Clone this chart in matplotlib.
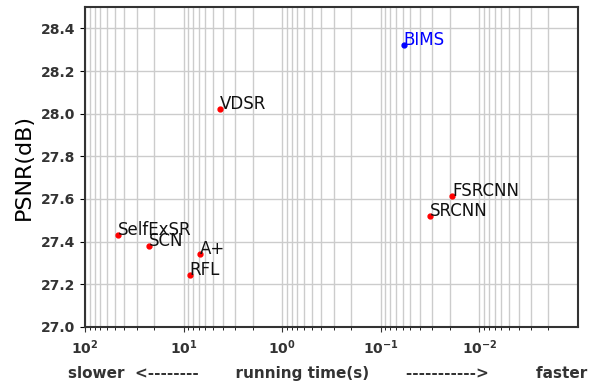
import numpy as np
import matplotlib
matplotlib.use("Agg")
import matplotlib.pyplot as plt

# Métodos, tiempo de ejecución (s) y PSNR (dB)
metodos = ["SelfExSR", "SCN", "A+", "RFL", "VDSR", "FSRCNN", "SRCNN"]
tiempos = [46.0, 22.5, 6.8, 8.7, 4.3, 0.019, 0.0316]
psnr = [27.43, 27.38, 27.34, 27.245, 28.02, 27.615, 27.52]

nuestro = "BIMS"
tiempo_nuestro = 0.0586
psnr_nuestro = 28.32

fig = plt.figure(figsize=(6.08, 3.85), dpi=100)
ax = fig.add_axes([85 / 608, 1 - 327 / 385, 493 / 608, 320 / 385])

ax.set_xscale("log")
ax.set_xlim(100, 0.001)
ax.set_ylim(27.0, 28.5)

# Puntos y etiquetas
ax.plot(tiempos, psnr, "o", color="red", markersize=3.5, zorder=3)
for nombre, t, p in zip(metodos, tiempos, psnr):
    ax.text(t, p, nombre, fontsize=12, color="#111111")

ax.plot([tiempo_nuestro], [psnr_nuestro], "o", color="blue", markersize=3.5, zorder=3)
ax.text(tiempo_nuestro, psnr_nuestro, nuestro, fontsize=12, color="blue")

# Rejilla
ax.grid(True, which="both", axis="x", color="#cccccc", linewidth=1)
ax.grid(True, which="major", axis="y", color="#cccccc", linewidth=1)
ax.set_axisbelow(True)

ax.set_xticks([100, 10, 1, 0.1, 0.01])
ax.set_xticklabels([r"$\mathbf{10^{2}}$", r"$\mathbf{10^{1}}$", r"$\mathbf{10^{0}}$",
                    r"$\mathbf{10^{-1}}$", r"$\mathbf{10^{-2}}$"], fontsize=10)
ax.set_yticks(np.arange(27.0, 28.41, 0.2))
ax.set_yticklabels([f"{v:.1f}" for v in np.arange(27.0, 28.41, 0.2)],
                   fontsize=10, fontweight="bold", color="#333333")
ax.tick_params(axis="x", colors="#333333", pad=5)

for s in ax.spines.values():
    s.set_color("#333333")
    s.set_linewidth(1.5)

ax.set_ylabel("PSNR(dB)", fontsize=16, labelpad=5)
ax.set_xlabel("slower  <--------       running time(s)       ----------->         faster",
              fontsize=11, fontweight="bold", color="#333333", x=0.493, labelpad=6)

fig.savefig("out.png", dpi=100)
